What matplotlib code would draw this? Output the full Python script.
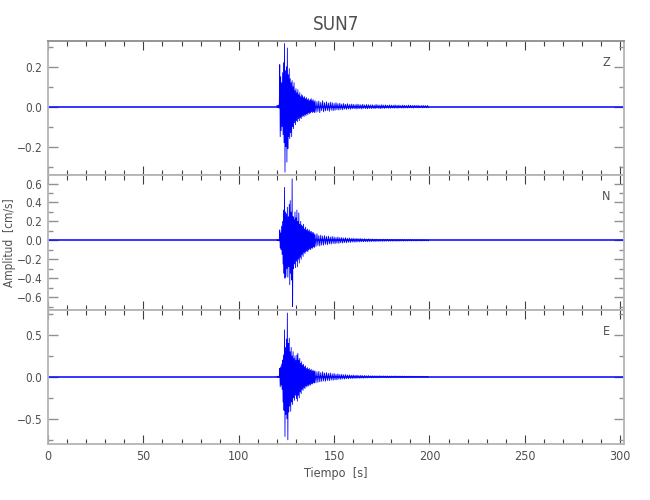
import numpy as np
import matplotlib.pyplot as plt
from matplotlib.ticker import MultipleLocator, FuncFormatter

plt.rcParams['font.family'] = ['DejaVu Sans']
plt.rcParams['font.stretch'] = 'condensed'

# time grid of the strong motion part: 0.5 s steps to 140 s, then 1 s steps
t_fine = np.arange(120.0, 140.0, 0.5)
t_coarse = np.arange(140.0, 200.0, 1.0)

# upper / lower extremes read from the record, cm/s
z_hi = [0.005, 0.006, 0.008, 0.21, 0.15, 0.12, 0.17, 0.22, 0.315, 0.18,
        0.2, 0.293, 0.16, 0.19, 0.14, 0.12, 0.13, 0.10, 0.12, 0.08,
        0.09, 0.07, 0.085, 0.06, 0.07, 0.05, 0.06, 0.055, 0.045, 0.05,
        0.04, 0.045, 0.035, 0.04, 0.03, 0.035, 0.04, 0.03, 0.035, 0.025,
        0.03, 0.025, 0.028, 0.022, 0.03, 0.02, 0.024, 0.018, 0.022, 0.02,
        0.016, 0.02, 0.015, 0.017, 0.013, 0.016, 0.012, 0.015, 0.011, 0.013,
        0.012, 0.01, 0.013, 0.011, 0.01, 0.012, 0.009, 0.011, 0.01, 0.009,
        0.01, 0.008, 0.011, 0.009, 0.008, 0.01, 0.008, 0.009, 0.007, 0.009,
        0.008, 0.007, 0.009, 0.007, 0.008, 0.006, 0.008, 0.007, 0.006, 0.008,
        0.007, 0.006, 0.007, 0.006, 0.007, 0.005, 0.006, 0.006, 0.005, 0.006]
z_lo = [-0.005, -0.006, -0.007, -0.15, -0.12, -0.10, -0.14, -0.18, -0.327, -0.2,
        -0.277, -0.21, -0.15, -0.16, -0.13, -0.15, -0.10, -0.11, -0.08, -0.09,
        -0.07, -0.075, -0.06, -0.07, -0.055, -0.06, -0.05, -0.045, -0.05, -0.04,
        -0.045, -0.035, -0.04, -0.03, -0.035, -0.03, -0.025, -0.03, -0.025, -0.03,
        -0.028, -0.024, -0.03, -0.02, -0.026, -0.021, -0.019, -0.023, -0.017, -0.02,
        -0.018, -0.015, -0.017, -0.014, -0.016, -0.012, -0.014, -0.012, -0.013, -0.011,
        -0.01, -0.012, -0.011, -0.01, -0.012, -0.009, -0.01, -0.011, -0.009, -0.01,
        -0.009, -0.01, -0.008, -0.009, -0.01, -0.008, -0.009, -0.007, -0.008, -0.008,
        -0.007, -0.008, -0.007, -0.008, -0.006, -0.007, -0.007, -0.006, -0.007, -0.006,
        -0.006, -0.007, -0.005, -0.006, -0.006, -0.005, -0.006, -0.005, -0.006, -0.005]

n_hi = [0.004, 0.005, 0.006, 0.11, 0.08, 0.15, 0.2, 0.32, 0.56, 0.3,
        0.28, 0.35, 0.25, 0.38, 0.42, 0.3, 0.65, 0.25, 0.22, 0.3,
        0.24, 0.32, 0.2, 0.29, 0.17, 0.2, 0.16, 0.15, 0.17, 0.12,
        0.14, 0.11, 0.12, 0.1, 0.11, 0.09, 0.095, 0.08, 0.085, 0.07,
        0.06, 0.07, 0.05, 0.055, 0.045, 0.05, 0.04, 0.045, 0.035, 0.04,
        0.035, 0.03, 0.035, 0.028, 0.03, 0.025, 0.028, 0.022, 0.025, 0.02,
        0.022, 0.018, 0.02, 0.017, 0.019, 0.015, 0.017, 0.014, 0.016, 0.013,
        0.014, 0.012, 0.013, 0.011, 0.012, 0.01, 0.012, 0.01, 0.011, 0.009,
        0.01, 0.009, 0.01, 0.008, 0.009, 0.008, 0.009, 0.007, 0.008, 0.007,
        0.008, 0.007, 0.007, 0.006, 0.007, 0.006, 0.006, 0.005, 0.006, 0.005]
n_lo = [-0.004, -0.005, -0.006, -0.08, -0.1, -0.15, -0.25, -0.35, -0.4, -0.38,
        -0.3, -0.39, -0.28, -0.47, -0.35, -0.42, -0.70, -0.3, -0.25, -0.29,
        -0.22, -0.28, -0.2, -0.24, -0.18, -0.2, -0.15, -0.17, -0.13, -0.14,
        -0.12, -0.11, -0.12, -0.1, -0.09, -0.1, -0.08, -0.085, -0.07, -0.075,
        -0.065, -0.055, -0.06, -0.05, -0.052, -0.042, -0.046, -0.038, -0.04, -0.033,
        -0.036, -0.03, -0.032, -0.026, -0.029, -0.024, -0.026, -0.021, -0.023, -0.019,
        -0.02, -0.019, -0.017, -0.018, -0.015, -0.016, -0.014, -0.015, -0.013, -0.014,
        -0.012, -0.013, -0.011, -0.012, -0.01, -0.011, -0.01, -0.009, -0.01, -0.009,
        -0.009, -0.008, -0.009, -0.008, -0.008, -0.007, -0.008, -0.007, -0.007, -0.006,
        -0.007, -0.006, -0.006, -0.007, -0.005, -0.006, -0.006, -0.005, -0.005, -0.006]

e_hi = [0.005, 0.006, 0.008, 0.1, 0.12, 0.15, 0.2, 0.26, 0.56, 0.35,
        0.45, 0.76, 0.4, 0.46, 0.3, 0.35, 0.25, 0.3, 0.22, 0.25,
        0.2, 0.26, 0.28, 0.2, 0.22, 0.16, 0.18, 0.14, 0.15, 0.12,
        0.13, 0.1, 0.11, 0.09, 0.1, 0.08, 0.09, 0.07, 0.08, 0.065,
        0.07, 0.06, 0.065, 0.05, 0.06, 0.045, 0.05, 0.04, 0.045, 0.035,
        0.04, 0.03, 0.035, 0.028, 0.03, 0.025, 0.027, 0.022, 0.024, 0.02,
        0.022, 0.018, 0.02, 0.016, 0.018, 0.015, 0.016, 0.013, 0.015, 0.012,
        0.013, 0.012, 0.012, 0.011, 0.012, 0.01, 0.011, 0.01, 0.011, 0.009,
        0.01, 0.009, 0.01, 0.008, 0.009, 0.008, 0.009, 0.008, 0.008, 0.007,
        0.008, 0.007, 0.007, 0.006, 0.007, 0.006, 0.007, 0.006, 0.006, 0.005]
e_lo = [-0.005, -0.006, -0.008, -0.12, -0.1, -0.15, -0.3, -0.4, -0.71, -0.45,
        -0.5, -0.75, -0.42, -0.35, -0.41, -0.3, -0.33, -0.25, -0.28, -0.22,
        -0.26, -0.29, -0.22, -0.25, -0.18, -0.2, -0.15, -0.16, -0.13, -0.14,
        -0.11, -0.12, -0.1, -0.11, -0.09, -0.1, -0.08, -0.085, -0.07, -0.075,
        -0.07, -0.065, -0.06, -0.055, -0.05, -0.052, -0.043, -0.046, -0.038, -0.04,
        -0.034, -0.036, -0.029, -0.031, -0.025, -0.027, -0.022, -0.024, -0.02, -0.021,
        -0.018, -0.019, -0.016, -0.017, -0.015, -0.016, -0.013, -0.014, -0.012, -0.013,
        -0.012, -0.011, -0.012, -0.01, -0.011, -0.01, -0.01, -0.009, -0.01, -0.009,
        -0.009, -0.008, -0.009, -0.008, -0.008, -0.008, -0.007, -0.008, -0.007, -0.007,
        -0.006, -0.007, -0.006, -0.006, -0.007, -0.005, -0.006, -0.006, -0.005, -0.005]

components = ['Z', 'N', 'E']
traces = [(z_hi, z_lo), (n_hi, n_lo), (e_hi, e_lo)]
ylims = [(-0.343, 0.328), (-0.733, 0.687), (-0.80, 0.80)]
y_major = [0.2, 0.2, 0.5]
y_minor = [0.1, 0.1, 0.25]
x_max = 302

spine_col = '#b4b4b4'
text_col = '#505050'
trace_col = '#0000ff'

# one decimal, typographic minus
yfmt = FuncFormatter(lambda v, pos: f'{v:.1f}'.replace('-', '\u2212')
                     if abs(v) > 1e-9 else '0.0')

fig, axes = plt.subplots(3, 1, figsize=(6.5, 5), dpi=100, sharex=True)
fig.subplots_adjust(left=48/650, right=624/650, top=1-41/500, bottom=1-444/500,
                    hspace=0)

# hi at each grid time, lo half a step later
t_hi = np.concatenate([t_fine, t_coarse])
t_lo = np.concatenate([t_fine + 0.25, t_coarse + 0.5])

for ax, comp, (hi, lo), yl, mj, mn in zip(axes, components, traces, ylims,
                                        y_major, y_minor):
    ax.axhline(0, color=trace_col, lw=1.1, zorder=2)
    tx = np.column_stack([t_hi, t_lo]).ravel()
    ty = np.column_stack([hi, lo]).ravel()
    ax.plot(tx, ty, color=trace_col, lw=0.6, zorder=3)
    ax.set_xlim(0, x_max)
    ax.set_ylim(*yl)
    ax.xaxis.set_major_locator(MultipleLocator(50))
    ax.xaxis.set_minor_locator(MultipleLocator(10))
    ax.yaxis.set_major_locator(MultipleLocator(mj))
    ax.yaxis.set_minor_locator(MultipleLocator(mn))
    ax.yaxis.set_major_formatter(yfmt)
    for s in ax.spines.values():
        s.set_color(spine_col)
        s.set_linewidth(1.3)
    ax.tick_params(axis='x', which='both', direction='in', top=True,
                   bottom=True, color='#404040', width=0.8,
                   labelsize=9, labelcolor=text_col, pad=4)
    ax.tick_params(axis='x', which='major', length=6.5)
    ax.tick_params(axis='x', which='minor', length=3.5)
    ax.tick_params(axis='y', which='both', direction='in', left=True,
                   right=True, color='#909090', width=1.0,
                   labelsize=8.5, labelcolor=text_col, pad=4)
    ax.tick_params(axis='y', which='major', length=7)
    ax.tick_params(axis='y', which='minor', length=3.5)
    ax.text(0.969, 0.84, comp, transform=ax.transAxes, ha='center',
            va='center', fontsize=9, color=text_col)

axes[0].spines['top'].set_color('#8c8c8c')
axes[0].set_title('SUN7', fontsize=13.5, color=text_col, pad=8)
axes[1].set_ylabel('Amplitud  [cm/s]', fontsize=8.5, color=text_col)
axes[1].yaxis.set_label_coords(-0.056, 0.5)
axes[2].set_xlabel('Tiempo  [s]', fontsize=9, color=text_col, labelpad=3)

fig.savefig('out.png', dpi=100)
